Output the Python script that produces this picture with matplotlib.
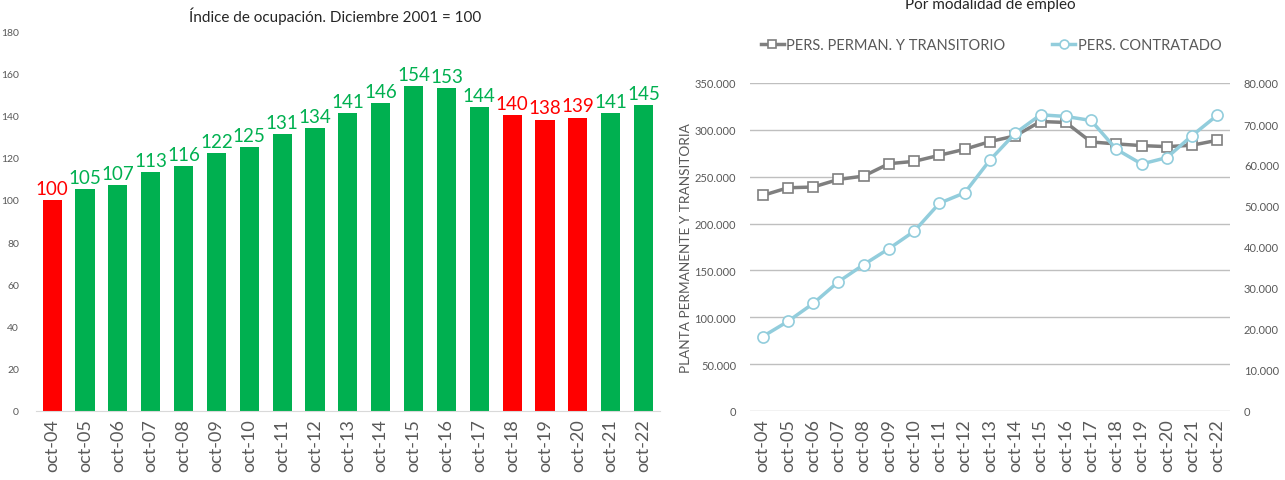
import matplotlib.pyplot as plt
import numpy as np
from matplotlib.ticker import FuncFormatter

plt.rcParams['font.family'] = ['Lato', 'DejaVu Sans']

meses = ["oct-04", "oct-05", "oct-06", "oct-07", "oct-08", "oct-09", "oct-10",
         "oct-11", "oct-12", "oct-13", "oct-14", "oct-15", "oct-16", "oct-17",
         "oct-18", "oct-19", "oct-20", "oct-21", "oct-22"]

indice = [100, 105, 107, 113, 116, 122, 125, 131, 134, 141, 146, 154, 153, 144,
          140, 138, 139, 141, 145]
en_rojo = ["oct-04", "oct-18", "oct-19", "oct-20"]

planta = [230000, 238200, 239000, 247100, 250700, 263900, 266400, 272900, 279300,
          287500, 293600, 308900, 307900, 287100, 285000, 283200, 282100, 283600,
          288900]
contratado = [18150, 21850, 26220, 31530, 35700, 39600, 43840, 50690, 53220,
              61220, 67760, 72245, 71840, 70860, 63840, 60250, 61800, 67180, 72160]

verde = "#00B050"
rojo = "#FF0000"
gris = "#7F7F7F"
azul = "#92CDDC"
txt = "#595959"

fig = plt.figure(figsize=(12.85, 4.81), dpi=100)
x = np.arange(len(meses))

# --- grafico izquierdo: indice ---
ax1 = fig.add_axes([35.7 / 1285, 69 / 481, 624.3 / 1285, 380 / 481])
colores = [rojo if m in en_rojo else verde for m in meses]
ax1.bar(x, indice, width=0.58, color=colores)
for i, v in enumerate(indice):
    ax1.text(x[i], v + 1.5, str(v), ha="center", va="bottom", fontsize=13.5,
             color=colores[i])
ax1.set_xlim(-0.5, len(meses) - 0.5)
ax1.set_ylim(0, 180)
ax1.set_yticks(range(0, 181, 20))
ax1.set_xticks(x)
ax1.set_xticklabels(meses, rotation=90, fontsize=13, color=txt)
ax1.tick_params(axis="y", labelsize=7.5, labelcolor=txt, length=0, pad=12)
ax1.tick_params(axis="x", length=0, pad=5)
for s in ["top", "right", "left"]:
    ax1.spines[s].set_visible(False)
ax1.spines["bottom"].set_color("#D9D9D9")
fig.text(335 / 1285, 1 - 16 / 481, "Índice de ocupación. Diciembre 2001 = 100",
         ha="center", va="center", fontsize=11, color="#262626")

# --- grafico derecho: modalidad ---
ax2 = fig.add_axes([750 / 1285, 69 / 481, 480 / 1285, 328 / 481])
ax3 = ax2.twinx()

miles = FuncFormatter(lambda v, p: f"{int(v):,}".replace(",", "."))

l1, = ax2.plot(x, planta, color=gris, lw=2.5, marker="s", ms=7.5,
               mfc="white", mec=gris, mew=1.2, label="PERS. PERMAN. Y TRANSITORIO")
l2, = ax3.plot(x, contratado, color=azul, lw=2.5, marker="o", ms=8,
               mfc="white", mec=azul, mew=1.2, label="PERS. CONTRATADO")
# linea azul encima
ax3.set_zorder(2)
ax3.patch.set_visible(False)

ax2.set_xlim(-0.5, len(meses) - 0.5)
ax2.set_ylim(0, 350000)
ax2.set_yticks(range(0, 350001, 50000))
ax3.set_ylim(0, 80000)
ax3.set_yticks(range(0, 80001, 10000))
ax2.yaxis.set_major_formatter(miles)
ax3.yaxis.set_major_formatter(miles)
ax2.grid(axis="y", color="#BFBFBF", lw=1)
ax2.set_axisbelow(True)
ax2.set_xticks(x)
ax2.set_xticklabels(meses, rotation=90, fontsize=13, color=txt)
ax2.tick_params(axis="y", labelsize=8, labelcolor=txt, length=0, pad=10)
ax3.tick_params(axis="y", labelsize=8, labelcolor=txt, length=0, pad=10)
ax2.tick_params(axis="x", length=0, pad=5)
for a in (ax2, ax3):
    for s in a.spines.values():
        s.set_visible(False)
ax2.set_ylabel("PLANTA PERMANENTE Y TRANSITORIA", fontsize=9.8, color=txt, labelpad=2)

fig.text(990 / 1285, 1 - 5 / 481, "Por modalidad de empleo", ha="center",
         va="center", fontsize=11, color="#262626")
fig.legend(handles=[l1, l2], loc="center", bbox_to_anchor=(991 / 1285, 1 - 46 / 481),
           ncol=2, frameon=False, fontsize=10.5, labelcolor=txt, handlelength=1.6,
           handletextpad=0.15, columnspacing=3.2, markerscale=0.8)

fig.savefig("out.png", dpi=100)
